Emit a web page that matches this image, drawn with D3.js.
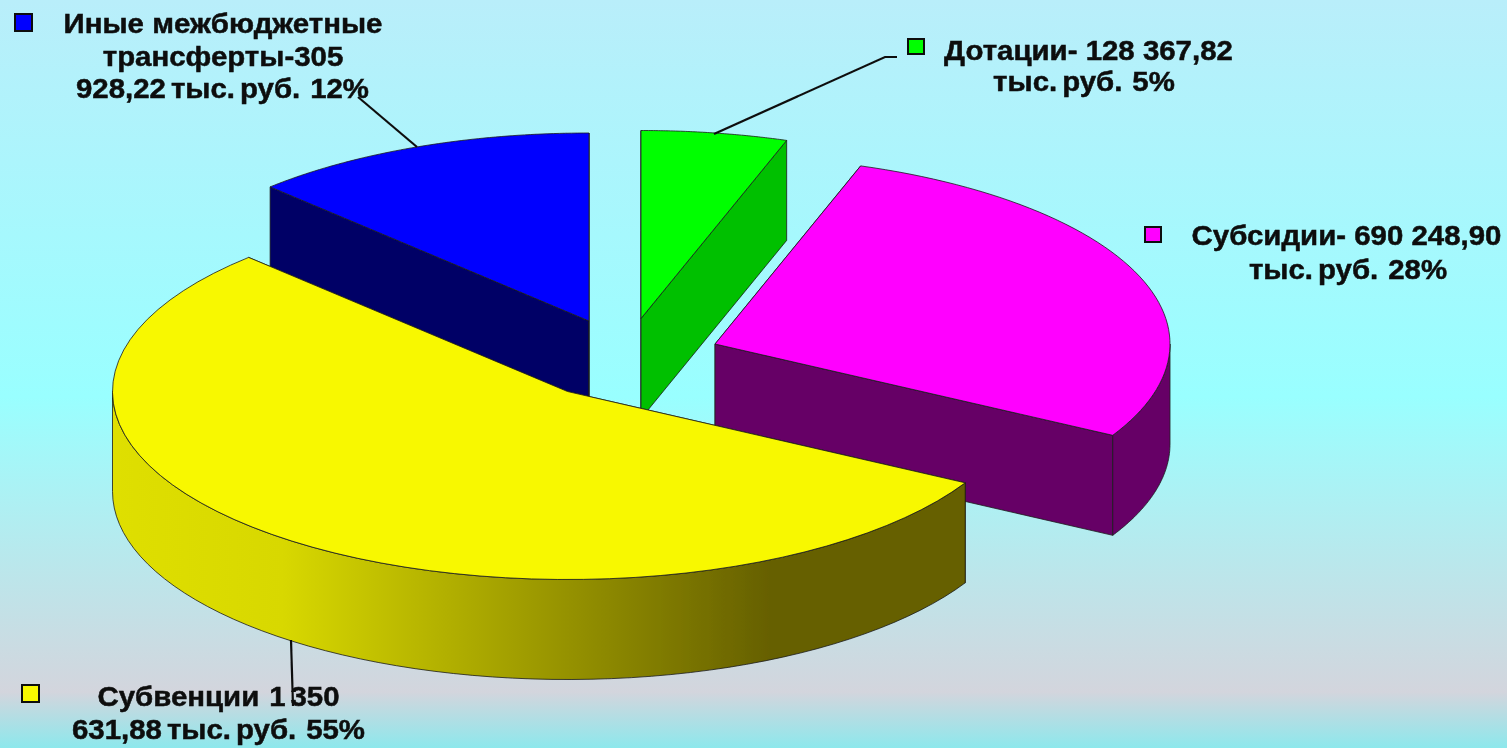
<!DOCTYPE html>
<html lang="ru">
<head>
<meta charset="utf-8">
<title>Безвозмездные поступления</title>
<script src="https://cdn.jsdelivr.net/npm/d3@7/dist/d3.min.js"></script>
<style>
html,body{margin:0;padding:0;overflow:hidden;background:#99ffff}
svg{display:block}
text{font-family:"Liberation Sans",Arial,sans-serif;font-weight:700;font-size:27.5px;fill:#0a0a0a;stroke:#0a0a0a;stroke-width:.45px;text-anchor:middle;white-space:pre}
</style>
</head>
<body>
<script>
const categories = ["Дотации", "Субсидии", "Субвенции", "Иные межбюджетные трансферты"];
const values = [128367.82, 690248.90, 1350631.88, 305928.22];
const labelLines = [
  ["Дотации- 128 367,82", "тыс. руб.  5%"],
  ["Субсидии- 690 248,90", "тыс. руб.  28%"],
  ["Субвенции  1 350", "631,88 тыс. руб.  55%"],
  ["Иные межбюджетные", "трансферты-305", "928,22 тыс. руб.  12%"]
];
const topColors = ["#00ff00", "#ff00ff", "#f8f800", "#0000ff"];
const wallColors = ["#00c000", "#660066", "#666000", "#000066"];

const W = 1507, H = 748;
const RX = 455, RY = 188, DEPTH = 100;
const TEXT_STRETCH = 1.07;
const centers = [[641, 318.5], [715, 344], [567.5, 391.5], [589, 321]];
const labelAnchors = [
  {xs: [1088.5, 1084], ys: [60, 91]},
  {xs: [1346.5, 1348], ys: [245, 279]},
  {xs: [218.5, 218.5], ys: [706, 739]},
  {xs: [223, 223, 222.5], ys: [33, 66, 98]}
];
const keyBoxes = [[908, 39, 16, 15], [1145, 227, 16, 15], [22, 685, 17, 17], [15, 14, 17, 17]];
const leaders = [
  [[714, 134], [885, 57], [897, 57]],
  null,
  [[291, 640], [293, 706]],
  [[358, 97], [417, 147]]
];

const svg = d3.select("body").append("svg").attr("width", W).attr("height", H);
const defs = svg.append("defs");

const bg = defs.append("linearGradient").attr("id", "bg").attr("x1", 0).attr("x2", 0).attr("y1", 0).attr("y2", 1);
[[0, "#b9eefa"], [0.53, "#99ffff"], [0.925, "#d3d5dd"], [1, "#8de8ec"]].forEach(([o, c]) =>
  bg.append("stop").attr("offset", o).attr("stop-color", c));

const wall = defs.append("linearGradient").attr("id", "yellowWall")
  .attr("gradientUnits", "userSpaceOnUse").attr("x1", 112).attr("x2", 966).attr("y1", 0).attr("y2", 0);
[[0, "#dfdf00"], [0.2, "#d8d800"], [0.77, "#666000"], [1, "#666000"]].forEach(([o, c]) =>
  wall.append("stop").attr("offset", o).attr("stop-color", c));

const soft = defs.append("filter").attr("id", "soft");
soft.append("feGaussianBlur").attr("stdDeviation", 0.45);

svg.append("rect").attr("width", W).attr("height", H).attr("fill", "url(#bg)");

const pie = d3.pie().sort(null).value(d => d);
const arcs = pie(values);
const line = d3.line();
const project = (c, t, dy = 0) => [c[0] + RX * Math.sin(t), c[1] - RY * Math.cos(t) + dy];
const sample = (a, b) => d3.range(0, 61).map(i => a + (b - a) * i / 60);

const applyEdge = s => s.attr("stroke", "#1c1c1c").attr("stroke-width", 0.8).attr("stroke-linejoin", "round");

const order = [3, 0, 1, 2];
const layer = svg.append("g").attr("filter", "url(#soft)");

order.forEach(i => {
  const {startAngle: a, endAngle: b} = arcs[i];
  const c = centers[i];
  const g = layer.append("g").attr("class", "slice").attr("data-category", categories[i]);

  // radial cut walls
  [a, b].forEach(t => {
    const p = project(c, t);
    applyEdge(g.append("path"))
      .attr("d", line([c, p, [p[0], p[1] + DEPTH], [c[0], c[1] + DEPTH]]) + "Z")
      .attr("fill", wallColors[i]);
  });

  // outer curved wall: only the front half of the ellipse is visible
  const lo = Math.max(a, Math.PI / 2), hi = Math.min(b, 3 * Math.PI / 2);
  if (hi > lo) {
    const ts = sample(lo, hi);
    const pts = ts.map(t => project(c, t)).concat(ts.slice().reverse().map(t => project(c, t, DEPTH)));
    applyEdge(g.append("path"))
      .attr("d", line(pts) + "Z")
      .attr("fill", i === 2 ? "url(#yellowWall)" : wallColors[i]);
  }

  // top face
  const top = [c].concat(sample(a, b).map(t => project(c, t)));
  applyEdge(g.append("path")).attr("d", line(top) + "Z").attr("fill", topColors[i]);
});

const over = svg.append("g").attr("filter", "url(#soft)");

// leader lines
leaders.forEach(l => {
  if (l) over.append("path").attr("d", line(l)).attr("fill", "none").attr("stroke", "#111").attr("stroke-width", 2.2);
});

// data labels
categories.forEach((name, i) => {
  const [x, y, w, h] = keyBoxes[i];
  over.append("rect").attr("x", x).attr("y", y).attr("width", w).attr("height", h)
    .attr("fill", topColors[i]).attr("stroke", "#111").attr("stroke-width", 2);
  labelLines[i].forEach((s, k) => {
    over.append("text")
      .attr("transform", `translate(${labelAnchors[i].xs[k]},${labelAnchors[i].ys[k]}) scale(${TEXT_STRETCH},1)`)
      .style("word-spacing", s.includes("  ") ? "-3px" : null)
      .text(s);
  });
});
</script>
</body>
</html>
